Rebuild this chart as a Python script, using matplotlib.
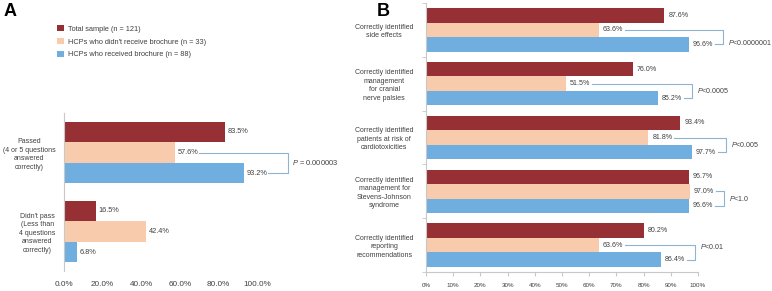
import numpy as np
import matplotlib.pyplot as plt

plt.rcParams['font.family'] = ['Liberation Sans', 'DejaVu Sans']
plt.rcParams['mathtext.fontset'] = 'custom'
plt.rcParams['mathtext.it'] = 'Liberation Sans:italic'
plt.rcParams['mathtext.rm'] = 'Liberation Sans'

series_names = ['Total sample (n = 121)',
                "HCPs who didn't receive brochure (n = 33)",
                'HCPs who received brochure (n = 88)']
colors = ['#963034', '#F9CBAD', '#70AEDF']

# panel A
cats_a = ['Passed\n(4 or 5 questions\nanswered\ncorrectly)',
          "Didn't pass\n(Less than\n4 questions\nanswered\ncorrectly)"]
total_a = [83.5, 16.5]
no_broch_a = [57.6, 42.4]
broch_a = [93.2, 6.8]
pvals_a = ['$P$ = 0.000003', None]

# panel B
cats_b = ['Correctly identified\nside effects',
          'Correctly identified\nmanagement\nfor cranial\nnerve palsies',
          'Correctly identified\npatients at risk of\ncardiotoxicities',
          'Correctly identified\nmanagement for\nStevens-Johnson\nsyndrome',
          'Correctly identified\nreporting\nrecommendations']
total_b = [87.6, 76.0, 93.4, 96.7, 80.2]
no_broch_b = [63.6, 51.5, 81.8, 97.0, 63.6]
broch_b = [96.6, 85.2, 97.7, 96.6, 86.4]
pvals_b = ['$P$<0.0000001', '$P$<0.0005', '$P$<0.005', '$P$<1.0', '$P$<0.01']

axis_col = '#c8c8c8'
txt_col = '#404040'
br_col = '#8db4d2'

fig = plt.figure(figsize=(7.72, 2.91), dpi=100)
axA = fig.add_axes([64/772, 1-271/291, 193/772, 158/291])
axB = fig.add_axes([426/772, 1-272/291, 272/772, 269/291])


def draw(ax, cats, groups, h, lab_fs, lab_off, pvals, br_off, line_off, t_dy, pv_fs):
    y = np.arange(len(cats))
    for k, vals in enumerate(groups):
        yy = y + (k - 1) * h
        ax.barh(yy, vals, height=h, color=colors[k], label=series_names[k])
        for yi, v in zip(yy, vals):
            ax.text(v + lab_off, yi, '%.1f%%' % v, va='center', ha='left',
                    fontsize=lab_fs, color=txt_col)
    # p-value brackets between the two brochure groups
    for i in range(len(cats)):
        if pvals[i] is None:
            continue
        p1, p2 = groups[1][i], groups[2][i]
        xb = max(p1, p2) + br_off
        y1, y2 = y[i], y[i] + h
        ax.plot([p1 + line_off, xb, xb, p2 + line_off], [y1, y1, y2, y2],
                color=br_col, lw=0.8, clip_on=False)
        ax.text(xb + 2, (y1 + y2) / 2 + t_dy[i], pvals[i], va='center', ha='left',
                fontsize=pv_fs, color=txt_col, clip_on=False)
    ax.set_xlim(0, 100)
    ax.set_ylim(len(cats) - 0.5, -0.5)
    ax.set_yticks(y)
    ax.set_yticklabels(cats, multialignment='center', color=txt_col, linespacing=1.3)
    for s in ['top', 'right']:
        ax.spines[s].set_visible(False)
    ax.spines['left'].set_color(axis_col)
    ax.spines['bottom'].set_color(axis_col)


draw(axA, cats_a, [total_a, no_broch_a, broch_a], 0.26, 5.3, 1.5,
     pvals_a, 23, 12.5, [0.0, 0.0], 5.4)
axA.spines['bottom'].set_visible(False)
axA.set_xticks(np.arange(0, 101, 20))
axA.set_xticklabels(['%.1f%%' % t for t in np.arange(0, 101, 20)])
axA.tick_params(axis='x', length=0, labelsize=5.9, labelcolor=txt_col, pad=7)
axA.tick_params(axis='y', length=0, labelsize=5.0, pad=6)

draw(axB, cats_b, [total_b, no_broch_b, broch_b], 0.27, 5.1, 1.5,
     pvals_b, 12.5, 9.5, [0.1, 0.0, 0.0, 0.0, -0.1], 5.1)
axB.set_xticks(np.arange(0, 101, 10))
axB.set_xticklabels(['%d%%' % t for t in np.arange(0, 101, 10)])
axB.set_yticks(np.arange(-0.5, len(cats_b), 1.0), minor=True)
axB.tick_params(axis='x', length=3, color=axis_col, labelsize=4.5, labelcolor=txt_col, pad=5)
axB.tick_params(axis='y', which='major', length=0, labelsize=5.0, pad=9)
axB.tick_params(axis='y', which='minor', length=3, color=axis_col)

handles, labels = axA.get_legend_handles_labels()
fig.legend(handles, labels, loc='upper left', bbox_to_anchor=(57/772, 1-25/291),
           frameon=False, fontsize=5.3, handlelength=0.95, handleheight=0.95,
           labelspacing=0.7, handletextpad=0.55, borderpad=0, borderaxespad=0,
           labelcolor=txt_col)

fig.text(4/772, 1-11/291, 'A', fontsize=13, fontweight='bold', va='center')
fig.text(377/772, 1-11/291, 'B', fontsize=13, fontweight='bold', va='center')

fig.savefig('out.png', dpi=100)
